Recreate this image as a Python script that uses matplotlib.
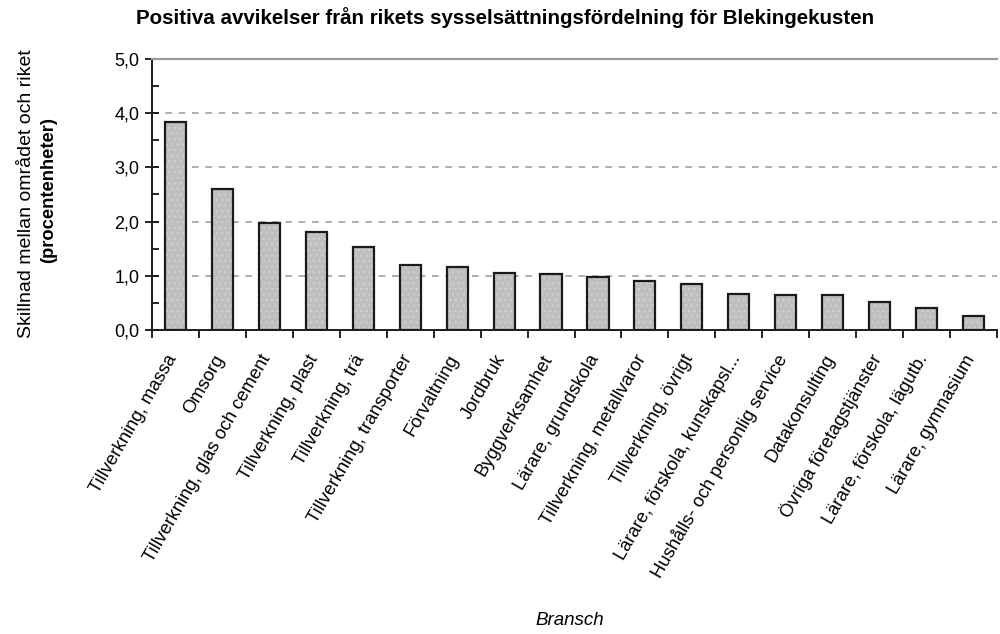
import numpy as np
import matplotlib
matplotlib.use("Agg")
import matplotlib.pyplot as plt
from matplotlib.ticker import MultipleLocator, FuncFormatter
from matplotlib.transforms import ScaledTranslation

branscher = ["Tillverkning, massa", "Omsorg", "Tillverkning, glas och cement",
             "Tillverkning, plast", "Tillverkning, trä", "Tillverkning, transporter",
             "Förvaltning", "Jordbruk", "Byggverksamhet", "Lärare, grundskola",
             "Tillverkning, metallvaror", "Tillverkning, övrigt",
             "Lärare, förskola, kunskapsl...", "Hushålls- och personlig service",
             "Datakonsulting", "Övriga företagstjänster", "Lärare, förskola, lägutb.",
             "Lärare, gymnasium"]
avvikelse = [3.84, 2.60, 1.98, 1.81, 1.53, 1.20, 1.17, 1.06, 1.03, 0.97,
             0.91, 0.85, 0.67, 0.64, 0.64, 0.52, 0.41, 0.25]

plt.rcParams['font.family'] = ['Liberation Sans', 'DejaVu Sans']
plt.rcParams['hatch.linewidth'] = 0.6

fig = plt.figure(figsize=(10, 6.34), dpi=100)
ax = fig.add_axes([0.152, 0.4795, 0.845, 0.4275])

x = np.arange(len(branscher))
ax.bar(x, avvikelse, width=0.45, color='#bfbfbf', hatch='...', edgecolor='#d6d6d6',
       linewidth=0, zorder=2)
ax.bar(x, avvikelse, width=0.45, fill=False, edgecolor='#1a1a1a', linewidth=1.6, zorder=3)

ax.set_xlim(-0.5, len(branscher) - 0.5)
ax.set_ylim(0, 5)
ax.yaxis.set_major_locator(MultipleLocator(1))
ax.yaxis.set_minor_locator(MultipleLocator(0.5))
ax.yaxis.set_major_formatter(FuncFormatter(lambda v, p: f"{v:.1f}".replace('.', ',')))
ax.tick_params(axis='y', which='major', direction='inout', length=10, width=1.2,
               labelsize=13, pad=4)
ax.tick_params(axis='y', which='minor', direction='in', length=5, width=1.2)

for yv in [1, 2, 3, 4]:
    ax.axhline(yv, color='#a0a0a0', linestyle=(0, (4, 4)), linewidth=1.2, zorder=1)

ax.set_xticks(x)
ax.set_xticklabels(branscher, rotation=60, ha='right', va='center_baseline',
                   rotation_mode='anchor', fontsize=13.2)
ax.set_xticks(np.arange(len(branscher) + 1) - 0.5, minor=True)
ax.tick_params(axis='x', which='major', length=0, pad=18)
ax.tick_params(axis='x', which='minor', direction='out', length=6, width=1.2)
shift = ScaledTranslation(-4 / 100, 0, fig.dpi_scale_trans)
for lbl in ax.get_xticklabels():
    lbl.set_transform(lbl.get_transform() + shift)

ax.spines['right'].set_visible(False)
ax.spines['top'].set_color('#9a9a9a')
ax.spines['top'].set_linewidth(1.6)
ax.spines['left'].set_linewidth(1.4)
ax.spines['bottom'].set_linewidth(1.4)
ax.spines['left'].set_color('#1a1a1a')
ax.spines['bottom'].set_color('#1a1a1a')

fig.text(0.505, 0.972, "Positiva avvikelser från rikets sysselsättningsfördelning för Blekingekusten",
         ha='center', va='center', fontsize=14.8, fontweight='bold')
fig.text(0.027, 0.695, "Skillnad mellan området och riket", rotation=90,
         ha='center', va='center', fontsize=14)
fig.text(0.049, 0.7, "(procentenheter)", rotation=90,
         ha='center', va='center', fontsize=13.2, fontweight='bold')
fig.text(0.57, 0.022, "Bransch", ha='center', va='center', fontsize=13.5, style='italic')

fig.savefig("out.png", dpi=100)
